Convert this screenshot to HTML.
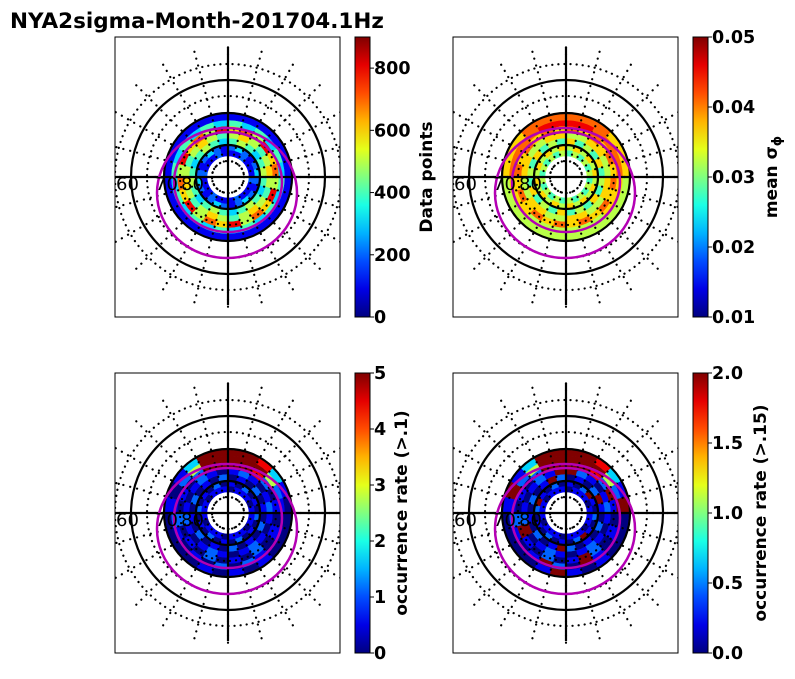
<!DOCTYPE html>
<html><head><meta charset="utf-8"><style>
body{margin:0;background:#fff}
svg text{font-family:"DejaVu Sans","Liberation Sans",sans-serif}
</style></head><body>
<svg id="s" width="795" height="674" xmlns="http://www.w3.org/2000/svg">
<text x="10" y="28" font-size="21.5" font-weight="bold">NYA2sigma-Month-201704.1Hz</text>
</svg>
<script>
// heatmap levels (0-9) per ring (inner->outer), 24 sectors clockwise from top
const panel1Rings=["112111211121112111211121","232123212321232123212321","454345434543454345434543","565456545654565456545654","675867586758675867586758","434343434343434343434343","111111111111111111111111"];
const panel2Rings=["454545454545454545454545","565656565656565656565656","645464546454645464546454","556655665566556655665566","767676767676767676767676","887777666555555666777788","777666555555555555666777"];
const panel3Rings=["011101110111011101110111","102010201020102010201020","010201020102010201020102","121012101210121012101210","998201010201020102010299","999521010120201012102599","998310000101010000101399"];
const panel4Rings=["011101110111011101110111","102910201920102010291020","010291020102910201020192","921012101210121092101219","998291010291020192010299","999529010190291012192599","998319000101910000191399"];
const ticks1=["0","200","400","600","800"],tickVals1=[0,200,400,600,800],range1=[0,900];
const ticks2=["0.01","0.02","0.03","0.04","0.05"],tickVals2=[0.01,0.02,0.03,0.04,0.05],range2=[0.01,0.05];
const ticks3=["0","1","2","3","4","5"],tickVals3=[0,1,2,3,4,5],range3=[0,5];
const ticks4=["0.0","0.5","1.0","1.5","2.0"],tickVals4=[0,0.5,1,1.5,2],range4=[0,2];
const NS="http://www.w3.org/2000/svg",svg=document.getElementById('s');
function mk(t,a,p){const e=document.createElementNS(NS,t);for(const k in a)e.setAttribute(k,a[k]);(p||svg).appendChild(e);return e;}
function jet(v){v=Math.max(0,Math.min(1,v));const r=Math.min(4*v-1.5,-4*v+4.5),g=Math.min(4*v-0.5,-4*v+3.5),b=Math.min(4*v+0.5,-4*v+2.5);const c=x=>Math.round(255*Math.max(0,Math.min(1,x)));return `rgb(${c(r)},${c(g)},${c(b)})`;}
const defs=mk('defs',{});
const grad=mk('linearGradient',{id:'jet',x1:0,y1:1,x2:0,y2:0},defs);
for(let i=0;i<=10;i++)mk('stop',{offset:i/10,'stop-color':jet(i/10)},grad);
const panels=[
 {x:115,y:37,rings:panel1Rings,ticks:ticks1,tv:tickVals1,range:range1,label:'Data points',lx:432,name:'data-points'},
 {x:453,y:37,rings:panel2Rings,ticks:ticks2,tv:tickVals2,range:range2,label:'mean σ',sub:'ϕ',lx:777,name:'mean-sigma'},
 {x:115,y:373,rings:panel3Rings,ticks:ticks3,tv:tickVals3,range:range3,label:'occurrence rate (>.1)',lx:407,name:'occurrence-01'},
 {x:453,y:373,rings:panel4Rings,ticks:ticks4,tv:tickVals4,range:range4,label:'occurrence rate (>.15)',lx:766,name:'occurrence-015'}];
const W=225,H=280,r0=21,r1=63;
panels.forEach((p,pi)=>{
 const cx=p.x+113,cy=p.y+140;
 const cp=mk('clipPath',{id:'c'+pi},defs);mk('rect',{x:p.x,y:p.y,width:W,height:H},cp);
 const g=mk('g',{'clip-path':`url(#c${pi})`});
 
 
 const nr=p.rings.length,dr=(r1-r0)/nr;
 p.rings.forEach((row,ri)=>{
  const ra=r0+ri*dr,rb=ra+dr,n=row.length;
  for(let si=0;si<n;si++){
   const a0=si/n*2*Math.PI-Math.PI/2,a1=(si+1)/n*2*Math.PI-Math.PI/2;
   const P=(r,a)=>`${(cx+r*Math.cos(a)).toFixed(2)},${(cy+r*Math.sin(a)).toFixed(2)}`;
   const c=mk('path',{d:`M${P(ra,a0)}A${ra},${ra} 0 0 1 ${P(ra,a1)}L${P(rb,a1)}A${rb},${rb} 0 0 0 ${P(rb,a0)}Z`,fill:jet(+row[si]/9),stroke:jet(+row[si]/9),'stroke-width':0.5},g);
   
   
  }
 });
 [16,48,81,113].forEach(r=>mk('circle',{cx,cy,r,fill:'none',stroke:'#000','stroke-width':2.2,'stroke-dasharray':'0.1 6','stroke-linecap':'round'},g));
 for(let k=0;k<24;k++){const a=k*Math.PI/12;mk('line',{x1:cx+16*Math.cos(a),y1:cy+16*Math.sin(a),x2:cx+132*Math.cos(a),y2:cy+132*Math.sin(a),stroke:'#000','stroke-width':2.2,'stroke-dasharray':'0.1 7','stroke-linecap':'round'},g);}
 [32,64,97].forEach(r=>mk('circle',{cx,cy,r,fill:'none',stroke:'#000','stroke-width':2.2},g));
 mk('line',{x1:p.x,y1:cy,x2:p.x+W,y2:cy,stroke:'#000','stroke-width':2.2},g);
 mk('line',{x1:cx,y1:p.y+10,x2:cx,y2:p.y+H-12,stroke:'#000','stroke-width':2.2},g);
 mk('ellipse',{cx:cx,cy:cy+5,rx:54,ry:50,fill:'none',stroke:'#b400b4','stroke-width':2.5},g);
 mk('ellipse',{cx:cx-1,cy:cy+16,rx:70,ry:65,fill:'none',stroke:'#b400b4','stroke-width':2.5},g);
 [['60',p.x+1],['70',p.x+40],['80',p.x+66]].forEach(([t,x])=>{const e=mk('text',{x,y:cy+13,'font-size':18},g);e.textContent=t;});
 mk('rect',{x:p.x,y:p.y,width:W,height:H,fill:'none',stroke:'#000','stroke-width':1});
 // colorbar
 const bx=p.x+240,bw=15;
 const cb=mk('rect',{x:bx,y:p.y,width:bw,height:H,fill:'url(#jet)',stroke:'#000','stroke-width':1});
 
 
 p.tv.forEach((v,i)=>{const y=p.y+H-(v-p.range[0])/(p.range[1]-p.range[0])*H;
  mk('line',{x1:bx+bw,y1:y,x2:bx+bw+4,y2:y,stroke:'#000','stroke-width':1});
  const t=mk('text',{x:bx+bw+4,y:y+6,'font-size':17.5,'font-weight':'bold'});t.textContent=p.ticks[i];
  
  });
 const lt=mk('text',{x:p.lx,y:cy,'font-size':17,'font-weight':'bold','text-anchor':'middle',transform:`rotate(-90 ${p.lx} ${cy})`});
 lt.textContent=p.label;
 if(p.sub){const ts=mk('tspan',{'font-size':13,dy:4},lt);ts.textContent=p.sub;}
 
 
});
</script>
</body></html>
